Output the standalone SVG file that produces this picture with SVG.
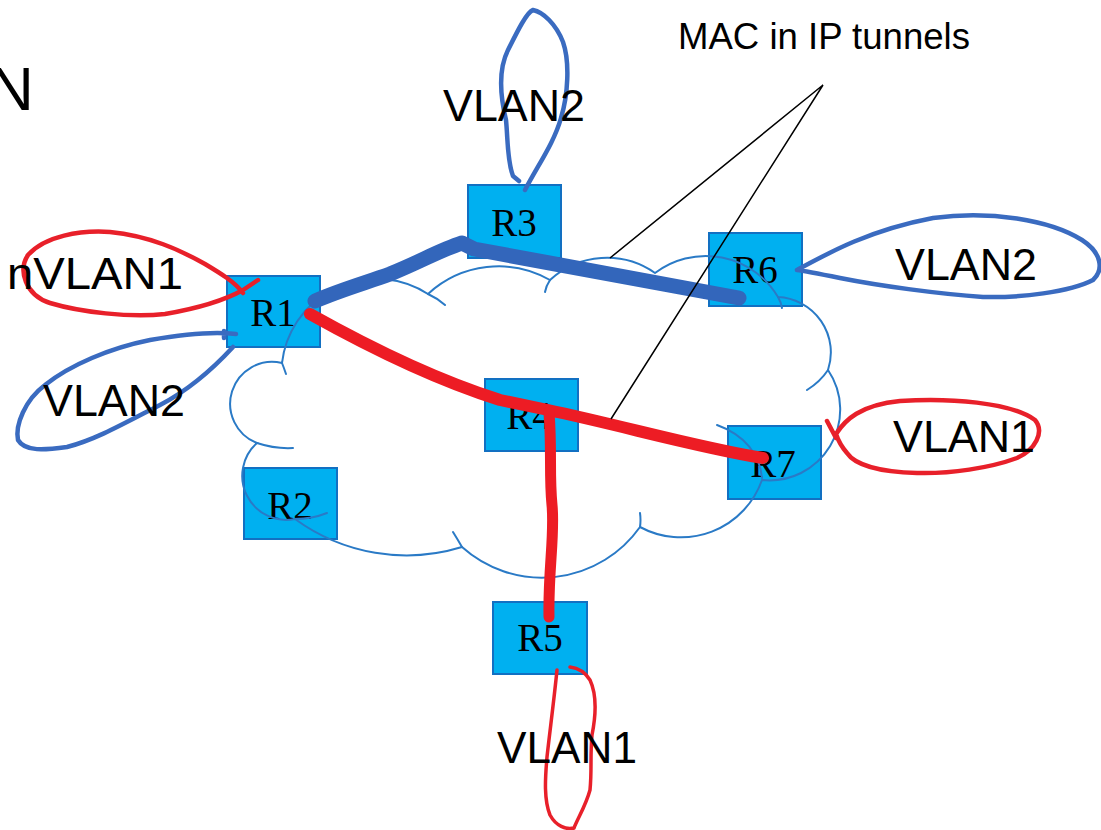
<svg xmlns="http://www.w3.org/2000/svg" width="1101" height="830" viewBox="0 0 1101 830">
<style>
.box{fill:#00B0F0;stroke:#1270C2;stroke-width:2}
.lbl{font-family:"Liberation Serif","Times New Roman",serif;font-size:39px;fill:#000;text-anchor:middle}
.vl{font-family:"Liberation Sans",Arial,sans-serif;font-size:45px;fill:#000}
.cloud{fill:none;stroke:#2A7AC6;stroke-width:2;stroke-linecap:round}
.tb{fill:none;stroke:#3366BB;stroke-width:15;stroke-linecap:round;stroke-linejoin:round}
.tr{fill:none;stroke:#ED1C24;stroke-width:12;stroke-linecap:round;stroke-linejoin:round}
.lb{fill:none;stroke:#3A6BC0;stroke-width:4.5;stroke-linecap:round;stroke-linejoin:round}
.lr{fill:none;stroke:#E8202A;stroke-width:4.5;stroke-linecap:round;stroke-linejoin:round}
.call{fill:none;stroke:#000;stroke-width:1.5}
</style>
<rect width="1101" height="830" fill="#fff"/>
<g id="nodes">
<g id="R1"><rect class="box" x="227" y="276" width="93" height="71"/><text class="lbl" x="273" y="326">R1</text></g>
<g id="R2"><rect class="box" x="244" y="468" width="93" height="71"/><text class="lbl" x="290" y="519">R2</text></g>
<g id="R3"><rect class="box" x="468" y="185" width="93" height="73"/><text class="lbl" x="514" y="236">R3</text></g>
<g id="R4"><rect class="box" x="485" y="379" width="93" height="72"/><text class="lbl" x="529" y="429">R4</text></g>
<g id="R5"><rect class="box" x="493" y="602" width="94" height="72"/><text class="lbl" x="540" y="651">R5</text></g>
<g id="R6"><rect class="box" x="709" y="233" width="93" height="73"/><text class="lbl" x="755" y="283">R6</text></g>
<g id="R7"><rect class="box" x="728" y="426" width="93" height="73"/><text class="lbl" x="773" y="477">R7</text></g>
</g>
<g id="cloud">
<path class="cloud" d="M282,363 A95,95 0 0 1 428,294 A104,104 0 0 1 550,280 A84,84 0 0 1 655,273 A84,84 0 0 1 778,297 A55.5,55.5 0 0 1 828,370 A70.7,70.7 0 0 1 762,480 A86,86 0 0 1 640,527 A120,120 0 0 1 462,547 A189,189 0 0 1 295,519 A44,44 0 0 1 257,443 A42,42 0 0 1 282,363 Z"/>
<path class="cloud" d="M282,363 Q284,368 286,374 M428,294 Q437,298 445,305 M550,280 Q546,286 545,292 M778,297 Q781,302 782,308 M828,370 Q820,382 807,390 M762,478 C760,455 745,435 717,425 M640,527 Q641,520 640,513 M462,547 Q458,540 453,532 M295,519 Q312,519 327,513 M257,443 Q275,449 293,448"/>
</g>
<g id="connectors">
<path class="tb" d="M315,301 C340,290 365,283 390,274 C420,262 440,250 462,243 L474,249 L739,298"/>
<path class="tr" d="M310,314 C360,342 430,378 500,400 L548,410 C620,425 700,448 763,458"/>
<path class="tr" style="stroke-width:11" d="M549,412 C552,450 549,475 552,505 C555,535 548,570 549,617"/>
<path class="call" d="M823,85 L610,258 M823,85 L611,419"/>
</g>
<g id="vlans">
<path class="lb" d="M519,181 L513,176 C507,160 508,140 506,120 C500,95 498,70 508,50 C518,30 527,12 533,10 C543,12 556,24 563,42 C570,62 568,95 561,118 C554,143 538,165 525,190"/>
<path class="lb" d="M797,270 C830,252 870,230 933,218 C990,210 1050,220 1082,240 C1102,253 1104,270 1093,280 C1070,292 1020,298 983,297 C940,294 880,286 840,278 C820,274 805,271 797,270"/>
<path class="lr" d="M836,434 C845,420 860,405 900,401 C950,398 1010,402 1035,420 C1045,432 1035,450 1017,458 C990,468 950,474 917,473 C880,472 855,465 847,453 C840,445 838,440 836,434 M827,421 L836,438"/>
<path class="lr" d="M258,280 L243,290 C225,300 200,308 165,314 C130,318 80,312 50,303 C25,295 18,270 28,255 C45,236 80,230 110,232 C150,236 180,250 205,264 C220,273 235,282 243,293"/>
<path class="lb" d="M236,334 C220,332 190,333 150,340 C110,348 70,365 45,385 C25,400 15,425 18,440 C25,452 45,450 67,447 C95,440 125,423 160,405 C185,392 210,372 233,347 M224,331 L224,338"/>
<path class="lr" style="stroke-width:3.5" d="M557,670 C554,700 550,730 547,757 C545,780 544,800 550,815 C556,826 566,830 574,828 C578,818 586,805 590,790 C592,770 590,757 592,735 C596,715 597,695 590,680 C585,672 578,668 570,667"/>
</g>
<g id="texts">
<text class="vl" x="443" y="121" textLength="142" lengthAdjust="spacingAndGlyphs">VLAN2</text>
<text class="vl" x="895" y="280" textLength="142" lengthAdjust="spacingAndGlyphs">VLAN2</text>
<text class="vl" x="893" y="452" textLength="142" lengthAdjust="spacingAndGlyphs">VLAN1</text>
<text class="vl" x="7" y="289" textLength="176" lengthAdjust="spacingAndGlyphs">nVLAN1</text>
<text class="vl" x="43" y="416" textLength="142" lengthAdjust="spacingAndGlyphs">VLAN2</text>
<text class="vl" x="497" y="763" textLength="140" lengthAdjust="spacingAndGlyphs">VLAN1</text>
<text class="vl" x="678" y="49" style="font-size:36px" textLength="292" lengthAdjust="spacingAndGlyphs">MAC in IP tunnels</text>
<text class="vl" x="-11" y="110" style="font-size:62px">N</text>
</g>
</svg>
